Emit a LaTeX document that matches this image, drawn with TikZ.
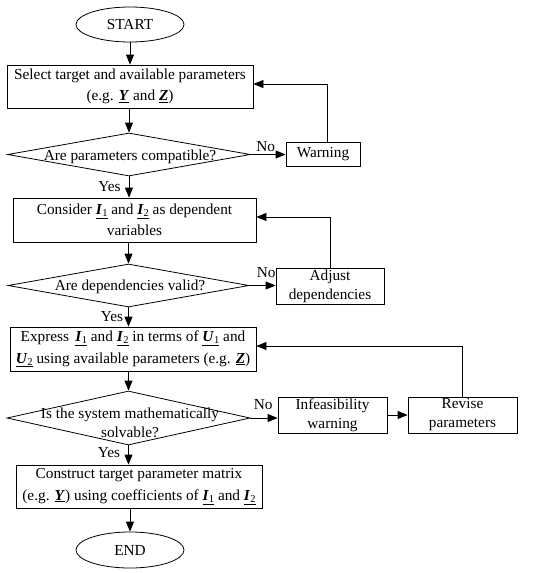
\documentclass[tikz,border=0pt]{standalone}
\usepackage{fontspec}
\setmainfont{Liberation Serif}
\usetikzlibrary{shapes.geometric,arrows.meta}
\newcommand{\bv}[2]{\underline{\textbf{\textit{#1}}\raisebox{-0.3ex}{\fontsize{10.5}{10.5}\selectfont #2}}}
\newcommand{\bvo}[1]{\underline{\textbf{\textit{#1}}}}
\begin{document}
\begin{tikzpicture}[x=1pt,y=-1pt,
  font=\fontsize{15.3}{21.5}\selectfont, line width=0.8pt,
  box/.style={draw, rectangle, align=center, inner sep=0pt},
  dia/.style={draw, diamond, inner sep=0pt},
  term/.style={draw, ellipse, minimum width=108pt, minimum height=35pt, inner sep=0pt},
  arr/.style={-{Triangle[length=10pt,width=8pt]}},
  lab/.style={inner sep=1pt}]
\useasboundingbox (0,0) rectangle (550,573);
% nodes
\node[term] (start) at (130,24.5) {START};
\node[box, minimum width=246pt, minimum height=43pt] (b1) at (130,86.5)
  {Select target and available parameters\\(e.g. \bvo{Y} and \bvo{Z})};
\node[dia, minimum width=243pt, minimum height=43pt] (d1) at (129,154.5) {};
\node[inner sep=0pt] (d1t) at (130,157) {Are parameters compatible?};
\node[box, minimum width=74pt, minimum height=24pt] (warn) at (323,154) {Warning};
\node[box, minimum width=243pt, minimum height=44pt] (b2) at (134.5,220)
  {Consider \bv{I}{1} and \bv{I}{2} as dependent\\variables};
\node[dia, minimum width=241pt, minimum height=43pt] (d2) at (128.5,285.5) {};
\node[inner sep=0pt] (d2t) at (130,287) {Are dependencies valid?};
\node[box, minimum width=108pt, minimum height=36pt, font=\fontsize{15.3}{19}\selectfont] (adj) at (330,286)
  {Adjust\\dependencies};
\node[box, minimum width=246pt, minimum height=44pt] (b3) at (133,349)
  {Express\, \bv{I}{1} and \bv{I}{2} in terms of \bv{U}{1} and\\\bv{U}{2} using available parameters (e.g. \bvo{Z})};
\node[dia, minimum width=243pt, minimum height=54pt] (d3) at (128.5,418) {};
\node[inner sep=0pt, align=center, font=\fontsize{15.3}{19}\selectfont] (d3t) at (130,422.5)
  {Is the system mathematically\\solvable?};
\node[box, minimum width=109pt, minimum height=36pt, font=\fontsize{15.3}{19}\selectfont] (inf) at (332.5,415)
  {Infeasibility\\warning};
\node[box, minimum width=109pt, minimum height=36pt, font=\fontsize{15.3}{19}\selectfont] (rev) at (462.5,415)
  {Revise\\parameters};
\node[box, minimum width=246pt, minimum height=43pt] (b4) at (139,486.5)
  {Construct target parameter matrix\\(e.g. \bvo{Y}) using coefficients of \bv{I}{1} and \bv{I}{2}};
\node[term, minimum height=36pt] (end) at (130,550) {END};
% main flow
\draw[arr] (start) -- (b1);
\draw[arr] (d1.north |- b1.south) -- (d1.north);
\draw[arr] (d1.south) -- (d1.south |- b2.north);
\draw[arr] (d2.north |- b2.south) -- (d2.north);
\draw[arr] (d2.south) -- (d2.south |- b3.north);
\draw[arr] (d3.north |- b3.south) -- (d3.north);
\draw[arr] (d3.south) -- (d3.south |- b4.north);
\draw[arr] (end.north |- b4.south) -- (end.north);
% No branches
\draw[arr] (d1.east) -- (d1.east -| warn.west);
\draw[arr] (d2.east) -- (d2.east -| adj.west);
\draw[arr] (d3.east) -- (d3.east -| inf.west);
\draw[arr] (inf) -- (rev);
% feedback
\draw[arr] ([xshift=4pt]warn.north) |- ([yshift=2.5pt]b1.east);
\draw[arr] (adj.north) |- ([yshift=3pt]b2.east);
\draw[arr] (rev.north) |- ([yshift=3pt]b3.east);
% labels
\node[lab, anchor=south west] (n1) at ([xshift=4pt,yshift=1pt]d1.east) {No};
\node[lab, anchor=south west] (n2) at ([xshift=6pt,yshift=6pt]d2.east) {No};
\node[lab, anchor=south west] (n3) at ([xshift=2pt,yshift=7pt]d3.east) {No};
\node[lab, anchor=north east] (y1) at ([xshift=-7pt,yshift=-4pt]d1.south) {Yes};
\node[lab, anchor=north east] (y2) at ([xshift=-4pt,yshift=-3pt]d2.south) {Yes};
\node[lab, anchor=north east] (y3) at ([xshift=-7pt,yshift=-1pt]d3.south) {Yes};
\end{tikzpicture}
\end{document}
